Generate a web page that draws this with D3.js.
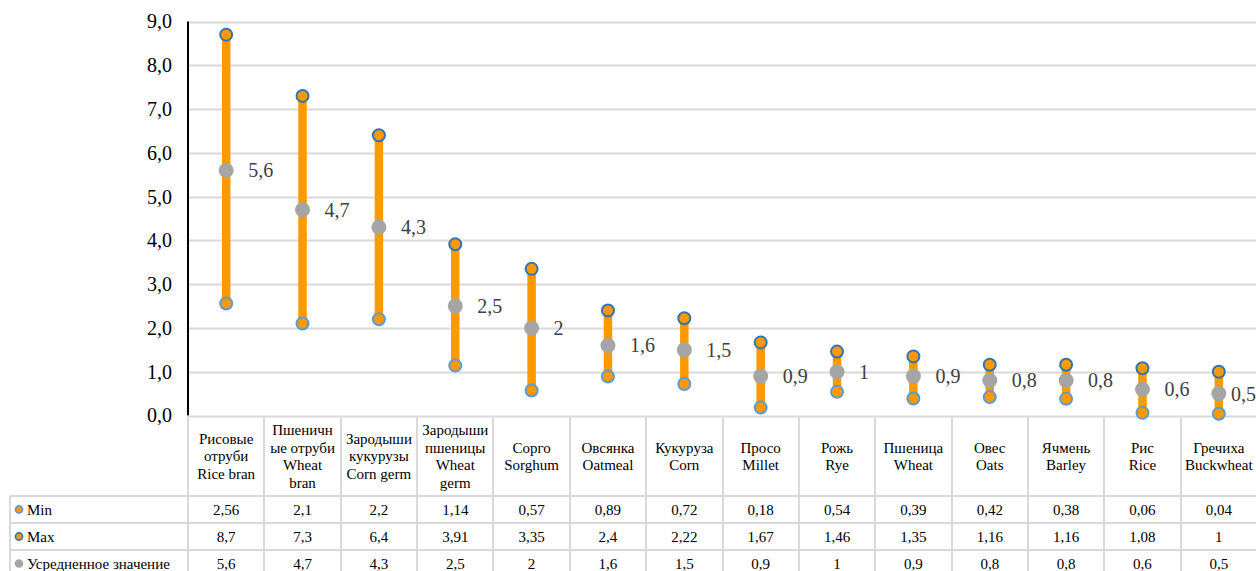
<!DOCTYPE html>
<html>
<head>
<meta charset="utf-8">
<script src="https://cdn.jsdelivr.net/npm/d3@7"></script>
<style>
  html, body { margin: 0; padding: 0; background: #fff; }
</style>
</head>
<body>
<svg id="chart" width="1256" height="571"></svg>
<script>
// Category labels (each entry is a list of wrapped lines)
const categories = [
  ["Рисовые", "отруби", "Rice bran"],
  ["Пшеничн", "ые отруби", "Wheat", "bran"],
  ["Зародыши", "кукурузы", "Corn germ"],
  ["Зародыши", "пшеницы", "Wheat", "germ"],
  ["Сорго", "Sorghum"],
  ["Овсянка", "Oatmeal"],
  ["Кукуруза", "Corn"],
  ["Просо", "Millet"],
  ["Рожь", "Rye"],
  ["Пшеница", "Wheat"],
  ["Овес", "Oats"],
  ["Ячмень", "Barley"],
  ["Рис", "Rice"],
  ["Гречиха", "Buckwheat"]
];
const minValues = [2.56, 2.1, 2.2, 1.14, 0.57, 0.89, 0.72, 0.18, 0.54, 0.39, 0.42, 0.38, 0.06, 0.04];
const maxValues = [8.7, 7.3, 6.4, 3.91, 3.35, 2.4, 2.22, 1.67, 1.46, 1.35, 1.16, 1.16, 1.08, 1];
const avgValues = [5.6, 4.7, 4.3, 2.5, 2, 1.6, 1.5, 0.9, 1, 0.9, 0.8, 0.8, 0.6, 0.5];
const seriesNames = ["Min", "Max", "Усредненное значение"];
const yTicks = [0, 1, 2, 3, 4, 5, 6, 7, 8, 9];

const FONT = '"Liberation Serif", "Times New Roman", serif';
const fmt = v => String(v).replace(".", ",");
const fmtTick = v => v.toFixed(1).replace(".", ",");

const C = {
  bar: "#ff9900",
  minStroke: "#5b9bd5",
  maxStroke: "#2e75b6",
  avg: "#a5a5a5",
  grid: "#d9d9d9",
  label: "#404040"
};

const svg = d3.select("#chart");
const keys = categories.map((d, i) => i);

const x = d3.scaleBand().domain(keys).range([188, 1257]).padding(0);
const y = d3.scaleLinear().domain([0, 9]).range([415.5, 21.5]);

// Horizontal gridlines
svg.append("g").selectAll("line").data(yTicks.filter(t => t > 0)).join("line")
  .attr("x1", 188).attr("x2", 1256)
  .attr("y1", d => Math.round(y(d)) + 0.5).attr("y2", d => Math.round(y(d)) + 0.5)
  .attr("stroke", C.grid).attr("stroke-width", 2);

// Y axis
const yAxis = svg.append("g").attr("transform", "translate(188,0)")
  .call(d3.axisLeft(y).tickValues(yTicks).tickFormat(fmtTick).tickSize(0).tickPadding(16));
yAxis.select(".domain").attr("stroke", "#000").attr("stroke-width", 2)
  .attr("d", `M0,${y(9)}V${y(0)}`);
yAxis.selectAll("text").style("font-family", FONT).style("font-size", "20px").attr("fill", "#000");

// Data table
const tableTop = 416.5, headerBottom = 496, rowH = 27;
const tableBottom = headerBottom + rowH * 3;
const tbl = svg.append("g");
const colEdges = keys.map(k => x(k)).concat([x(13) + x.bandwidth()]);
tbl.append("line").attr("x1", 188).attr("x2", 1256).attr("y1", tableTop).attr("y2", tableTop)
  .attr("stroke", C.grid).attr("stroke-width", 2);
[0, 1, 2, 3].forEach(r => {
  tbl.append("line").attr("x1", 10).attr("x2", 1256)
    .attr("y1", headerBottom + r * rowH).attr("y2", headerBottom + r * rowH)
    .attr("stroke", C.grid).attr("stroke-width", 2);
});
tbl.selectAll("line.col").data(colEdges).join("line").attr("class", "col")
  .attr("x1", d => Math.round(d)).attr("x2", d => Math.round(d))
  .attr("y1", tableTop).attr("y2", tableBottom)
  .attr("stroke", C.grid).attr("stroke-width", 2);
tbl.append("line").attr("x1", 10).attr("x2", 10).attr("y1", headerBottom).attr("y2", tableBottom)
  .attr("stroke", C.grid).attr("stroke-width", 2);

// Header labels
const lh = 17.5;
const headerMid = (tableTop + headerBottom) / 2;
const hdr = tbl.selectAll("text.hdr").data(categories).join("text").attr("class", "hdr")
  .attr("text-anchor", "middle").style("font-family", FONT).style("font-size", "15px").attr("fill", "#000");
hdr.each(function(lines, i) {
  const cx = x(i) + x.bandwidth() / 2;
  const y0 = headerMid - (lines.length - 1) * lh / 2 + 5;
  d3.select(this).selectAll("tspan").data(lines).join("tspan")
    .attr("x", cx).attr("y", (d, j) => y0 + j * lh).text(d => d);
});

// Value rows
const rows = [minValues, maxValues, avgValues];
rows.forEach((vals, r) => {
  const cy = headerBottom + r * rowH + rowH / 2 + 5;
  tbl.append("g").selectAll("text").data(vals).join("text")
    .attr("x", (d, i) => x(i) + x.bandwidth() / 2).attr("y", cy)
    .attr("text-anchor", "middle").style("font-family", FONT).style("font-size", "15px").attr("fill", "#000")
    .text(d => fmt(d));
});

// Row legend
const legendStyle = [
  { fill: C.bar, stroke: C.minStroke, r: 3.6, sw: 1.6 },
  { fill: C.bar, stroke: C.maxStroke, r: 3.6, sw: 1.6 },
  { fill: C.avg, stroke: "none", r: 4.3, sw: 0 }
];
seriesNames.forEach((name, r) => {
  const cy = headerBottom + r * rowH + rowH / 2;
  const s = legendStyle[r];
  tbl.append("circle").attr("cx", 19).attr("cy", cy).attr("r", s.r)
    .attr("fill", s.fill).attr("stroke", s.stroke).attr("stroke-width", s.sw);
  tbl.append("text").attr("x", 27).attr("y", cy + 5)
    .style("font-family", FONT).style("font-size", "15px")
    .attr("fill", "#000").text(name);
});

// Range bars
const marks = svg.append("g");
const cxOf = i => x(i) + x.bandwidth() / 2;
marks.selectAll("line.bar").data(keys).join("line").attr("class", "bar")
  .attr("x1", cxOf).attr("x2", cxOf)
  .attr("y1", i => y(minValues[i])).attr("y2", i => y(maxValues[i]))
  .attr("stroke", C.bar).attr("stroke-width", 8.5);

// Min / Max markers
marks.selectAll("circle.min").data(keys).join("circle").attr("class", "min")
  .attr("cx", cxOf).attr("cy", i => y(minValues[i])).attr("r", 6)
  .attr("fill", C.bar).attr("stroke", C.minStroke).attr("stroke-width", 2);
marks.selectAll("circle.max").data(keys).join("circle").attr("class", "max")
  .attr("cx", cxOf).attr("cy", i => y(maxValues[i])).attr("r", 6)
  .attr("fill", C.bar).attr("stroke", C.maxStroke).attr("stroke-width", 2);

// Average markers
marks.selectAll("circle.avg").data(keys).join("circle").attr("class", "avg")
  .attr("cx", cxOf).attr("cy", i => y(avgValues[i])).attr("r", 7.5)
  .attr("fill", C.avg);

// Average value labels
marks.selectAll("text.avgLabel").data(keys).join("text").attr("class", "avgLabel")
  .attr("x", i => cxOf(i) + 22).attr("y", i => y(avgValues[i]) + 7)
  .style("font-family", FONT).style("font-size", "20px").attr("fill", C.label)
  .text(i => fmt(avgValues[i]))
  .each(function(i) {
    const w = this.getComputedTextLength();
    const xx = Math.min(cxOf(i) + 22, 1256 - w);
    d3.select(this).attr("x", xx);
  });
</script>
</body>
</html>
